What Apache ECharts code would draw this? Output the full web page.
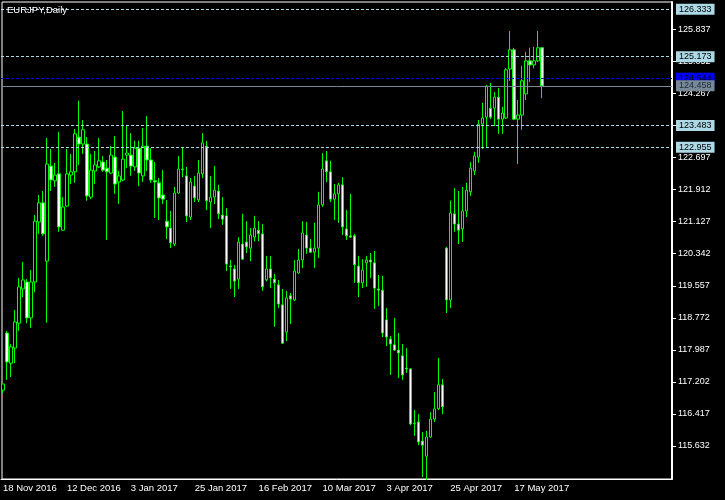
<!DOCTYPE html>
<html><head><meta charset="utf-8">
<script src="https://cdn.jsdelivr.net/npm/echarts@6/dist/echarts.min.js"></script>
<style>html,body{margin:0;padding:0;background:#000}#c{width:725px;height:500px}</style>
</head><body><div id="c"></div>
<script>
const dates = [
'2016-11-18','2016-11-21','2016-11-22','2016-11-23','2016-11-24','2016-11-25','2016-11-28','2016-11-29','2016-11-30',
'2016-12-01','2016-12-02','2016-12-05','2016-12-06','2016-12-07','2016-12-08','2016-12-09','2016-12-12','2016-12-13','2016-12-14','2016-12-15','2016-12-16','2016-12-19','2016-12-20','2016-12-21','2016-12-22','2016-12-23','2016-12-26','2016-12-27','2016-12-28','2016-12-29','2016-12-30',
'2017-01-02','2017-01-03','2017-01-04','2017-01-05','2017-01-06','2017-01-09','2017-01-10','2017-01-11','2017-01-12','2017-01-13','2017-01-16','2017-01-17','2017-01-18','2017-01-19','2017-01-20','2017-01-23','2017-01-24','2017-01-25','2017-01-26','2017-01-27','2017-01-30','2017-01-31',
'2017-02-01','2017-02-02','2017-02-03','2017-02-06','2017-02-07','2017-02-08','2017-02-09','2017-02-10','2017-02-13','2017-02-14','2017-02-15','2017-02-16','2017-02-17','2017-02-20','2017-02-21','2017-02-22','2017-02-23','2017-02-24','2017-02-27','2017-02-28',
'2017-03-01','2017-03-02','2017-03-03','2017-03-06','2017-03-07','2017-03-08','2017-03-09','2017-03-10','2017-03-13','2017-03-14','2017-03-15','2017-03-16','2017-03-17','2017-03-20','2017-03-21','2017-03-22','2017-03-23','2017-03-24','2017-03-27','2017-03-28','2017-03-29','2017-03-30','2017-03-31',
'2017-04-03','2017-04-04','2017-04-05','2017-04-06','2017-04-07','2017-04-10','2017-04-11','2017-04-12','2017-04-13','2017-04-14','2017-04-17','2017-04-18','2017-04-19','2017-04-20','2017-04-21','2017-04-24','2017-04-25','2017-04-26','2017-04-27','2017-04-28',
'2017-05-01','2017-05-02','2017-05-03','2017-05-04','2017-05-05','2017-05-08','2017-05-09','2017-05-10','2017-05-11','2017-05-12','2017-05-15','2017-05-16','2017-05-17','2017-05-18','2017-05-19','2017-05-22','2017-05-23','2017-05-24','2017-05-25','2017-05-26'
];
const opens = [
117.00,118.40,117.66,118.03,118.64,119.48,119.65,118.77,119.65,121.12,
121.59,120.16,122.49,122.13,122.30,120.92,121.51,122.27,122.35,123.20,
123.03,123.03,121.73,122.37,122.47,122.59,122.44,122.32,122.71,122.10,
122.15,122.76,122.76,122.47,122.93,122.25,122.98,122.64,122.13,122.08,
121.78,121.14,120.97,120.58,121.83,122.42,122.25,121.24,122.00,121.66,
122.30,122.98,121.61,121.73,121.88,121.29,121.27,120.04,119.97,119.72,
120.58,120.63,120.48,120.75,120.92,120.83,119.70,119.97,119.72,119.58,
119.09,118.42,119.31,119.21,119.87,120.19,120.80,120.48,120.38,120.48,
121.54,122.62,122.35,121.68,121.81,122.03,120.95,120.78,120.78,120.04,
119.63,120.12,120.19,120.12,119.48,119.45,118.72,118.25,118.11,117.98,
117.84,117.54,117.52,116.19,116.22,115.75,115.38,115.85,116.29,116.54,
117.13,120.48,119.21,121.32,121.07,120.95,121.39,121.86,122.37,122.71,
123.52,123.69,123.91,123.91,124.18,123.64,123.67,124.87,125.34,123.64,
123.74,124.26,125.07,124.97,125.07,125.39
];
const closes = [
117.15,117.69,118.06,118.67,119.53,119.70,118.77,119.65,121.14,121.59,
120.83,122.54,122.15,122.27,121.00,121.49,122.30,122.35,123.28,123.03,
123.38,121.76,122.39,122.52,122.62,122.39,122.35,122.76,122.05,122.25,
122.66,122.81,122.49,122.93,122.32,122.98,122.64,122.15,122.10,121.71,
121.68,121.00,120.61,121.83,122.42,122.40,121.27,122.10,121.71,122.32,
123.06,121.64,121.73,121.90,121.32,121.19,120.09,120.02,119.67,120.63,
120.21,120.51,120.80,120.97,120.83,119.53,119.97,119.75,119.63,119.11,
118.15,119.26,119.23,119.92,120.19,120.85,120.48,120.38,120.48,121.54,
122.42,122.35,121.68,121.81,122.03,121.00,120.78,120.75,120.07,119.63,
119.94,120.19,120.14,119.50,119.45,118.40,118.30,118.13,117.98,117.91,
117.37,117.52,116.17,116.18,115.73,115.65,115.85,116.29,116.54,117.13,
116.59,119.21,121.34,121.07,120.92,121.39,121.90,122.44,122.74,123.52,
123.67,124.45,123.69,124.18,123.64,123.79,124.85,125.34,123.64,123.74,
124.58,125.07,124.97,125.07,125.39,124.458
];
const lows = [
116.93,117.25,117.32,117.66,118.45,119.28,118.64,118.52,119.40,120.83,
120.78,118.65,121.88,121.98,120.88,120.90,121.49,122.05,122.08,122.52,
122.79,121.64,121.68,122.05,122.44,122.35,120.68,122.30,121.81,121.56,
122.12,122.44,122.25,122.37,122.00,122.10,122.37,122.08,121.22,121.17,
121.56,120.70,120.48,120.53,121.81,122.22,121.12,121.17,121.61,121.61,
122.20,121.41,120.97,121.56,121.19,121.05,119.92,119.48,119.28,119.48,
120.19,120.36,120.16,120.65,120.65,119.43,119.67,119.50,118.55,119.01,
118.13,118.20,118.62,119.18,119.85,119.99,120.34,120.36,119.99,120.24,
121.49,122.10,121.61,121.17,121.10,120.80,120.68,120.73,119.63,119.28,
119.50,119.53,119.75,118.99,119.06,118.30,118.08,117.37,117.96,117.30,
117.25,117.42,116.14,115.88,115.65,114.87,114.80,115.83,116.22,116.51,
116.41,118.89,119.01,120.88,120.58,120.63,121.24,121.76,122.27,122.57,
122.91,122.96,123.64,123.47,123.28,123.28,123.64,124.58,123.62,122.54,
123.38,124.11,124.55,124.89,125.04,124.16
];
const highs = [
117.15,118.45,118.13,118.96,119.75,120.14,119.72,119.94,121.29,121.78,
121.88,123.18,122.91,122.57,123.33,121.73,122.91,122.79,123.40,124.09,
123.62,123.20,122.79,122.86,123.18,122.74,122.64,122.98,123.23,122.37,
123.84,123.50,123.30,123.11,123.11,123.42,123.72,122.93,122.59,122.20,
122.39,121.66,121.39,121.98,122.74,122.96,122.47,122.20,122.25,122.64,
123.30,123.11,122.25,122.49,122.03,121.73,121.46,120.19,120.07,120.75,
121.32,121.14,120.97,121.27,121.14,121.07,120.29,120.29,119.85,119.70,
119.48,119.43,119.38,120.19,120.46,121.14,121.12,120.70,121.10,121.86,
122.81,122.86,122.62,122.05,122.08,122.22,121.41,121.81,120.83,120.29,
120.21,120.29,120.36,120.41,119.82,119.80,119.01,118.33,118.77,118.40,
118.13,118.03,117.54,116.51,116.41,115.97,116.00,116.46,116.95,117.79,
117.27,120.51,121.64,121.95,121.88,121.98,122.08,122.59,122.84,123.62,
124.04,124.48,124.53,124.31,124.40,123.94,124.89,125.80,125.39,124.11,
124.94,125.29,125.39,125.41,125.80,125.41
];
const priceTicks = [115.632,116.417,117.202,117.987,118.772,119.557,120.342,121.127,121.912,122.697,123.482,124.267,125.052,125.837];
const lightLevels = [126.333,125.173,123.483,122.955];
const blueLevel = 124.644;
const bidLevel = 124.458;
const yMin = 114.821, yMax = 126.512;
const shiftBars = 32;
const labelEvery = 16;

const MONTHS = ['Jan','Feb','Mar','Apr','May','Jun','Jul','Aug','Sep','Oct','Nov','Dec'];
const FONT = 'Liberation Sans';
const categories = dates.concat(new Array(shiftBars).fill(''));
const ohlc = dates.map((d, i) => [opens[i], closes[i], lows[i], highs[i]]);
const fmtDate = s => { if (!s) return ''; const p = s.split('-'); return (+p[2]) + ' ' + MONTHS[+p[1] - 1] + ' ' + p[0]; };
const showIdx = i => i % labelEvery === 0 && i < dates.length;

const lvl = (v, color, dashed, textColor) => ({
  yAxis: v,
  lineStyle: { color: color, type: dashed ? [3, 2] : 'solid', width: 1 },
  label: { backgroundColor: color, color: textColor }
});

const chart = echarts.init(document.getElementById('c'));
chart.setOption({
  backgroundColor: '#000000',
  animation: false,
  title: { text: 'EURJPY,Daily', left: 7, top: 5, padding: 0,
    textStyle: { color: '#ffffff', fontSize: 9.5, fontWeight: 'normal', fontFamily: FONT } },
  grid: [
    { left: 0, right: 53, top: 2, bottom: 21, show: false },
    { left: 2, right: 53, top: 2, bottom: 21, show: true, borderColor: '#ffffff', borderWidth: 1, backgroundColor: 'transparent' }
  ],
  xAxis: [
    { type: 'category', data: categories, boundaryGap: true,
      axisLine: { lineStyle: { color: '#ffffff' } },
      axisTick: { alignWithLabel: true, interval: showIdx, length: 4, lineStyle: { color: '#ffffff' } },
      axisLabel: { interval: showIdx, formatter: fmtDate, align: 'left', color: '#ffffff', fontSize: 9.5, margin: 4, fontFamily: FONT },
      splitLine: { show: false } },
    { type: 'category', gridIndex: 1, show: false, data: categories }
  ],
  yAxis: [
    { type: 'value', position: 'right', min: yMin, max: yMax, splitLine: { show: false },
      axisLine: { show: true, lineStyle: { color: '#ffffff', width: 2 } },
      axisTick: { show: true, customValues: priceTicks, length: 4, lineStyle: { color: '#ffffff' } },
      axisLabel: { customValues: priceTicks, color: '#ffffff', fontSize: 9, margin: 6, fontFamily: FONT, formatter: v => v.toFixed(3) } },
    { type: 'value', gridIndex: 1, show: false, min: 0, max: 1 }
  ],
  series: [{
    type: 'candlestick',
    data: ohlc,
    barWidth: 3,
    itemStyle: { color: '#000000', color0: '#ffffff', borderColor: '#00ff00', borderColor0: '#00ff00', borderColorDoji: '#00ff00', borderWidth: 1 },
    markLine: {
      symbol: 'none', silent: true, animation: false, precision: 3,
      label: { position: 'end', distance: 4, fontSize: 9, fontFamily: FONT, padding: [1, 3, 1, 3], lineHeight: 9,
        formatter: p => Number(p.value).toFixed(3) },
      data: lightLevels.map(v => lvl(v, '#add8e6', true, '#000000'))
        .concat([lvl(blueLevel, '#0000ff', true, '#000000'), lvl(bidLevel, '#778899', false, '#1e2a36')])
    }
  }]
});
</script></body></html>
